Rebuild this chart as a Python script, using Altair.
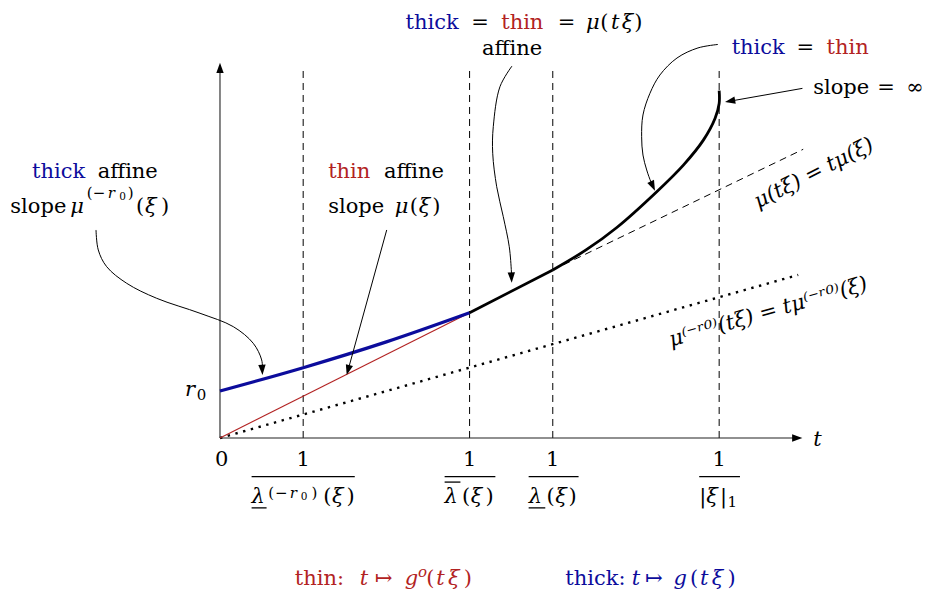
import altair as alt
import pandas as pd

FONT = "DejaVu Serif"
BLUE = "#0c0c9c"
RED = "#b22222"
BLACK = "#000000"

# ---------------- data (t along the ray, value of the function) ----------------
thick_t = [0.0, 1.0, 2.0, 3.0]
thick_y = [0.565, 0.845, 1.155, 1.505]

thin_t = [0.0, 3.0]
thin_y = [0.0, 1.505]

affine_t = [3.0, 4.0]
affine_y = [1.505, 2.02]

curve_t = [4.0, 4.40, 4.77, 5.25, 5.57, 5.81, 5.95, 6.0, 6.0]
curve_y = [2.02, 2.26, 2.53, 2.96, 3.28, 3.58, 3.84, 4.02, 4.174]

tangent_t = [4.0, 7.01]
tangent_y = [2.02, 3.47]

dotted_t = [0.0, 6.95]
dotted_y = [0.0, 1.96]

vline_t = [1.0, 3.0, 4.0, 6.0]
vline_top = 4.46

xaxis_end = 6.93
xaxis_tip = 7.0
yaxis_end = 4.45
yaxis_tip = 4.51

# fraction bars / under- and overlines (t_start, t_end, y)
bar_rules = [
    (0.38, 1.62, -0.465), (2.70, 3.31, -0.465), (3.71, 4.31, -0.465), (5.76, 6.25, -0.465),
    (0.38, 0.56, -0.84), (3.71, 3.91, -0.84), (2.70, 2.89, -0.53),
]

# annotation arrows
arrow_paths = {
    "a1": ([-1.490, -1.463, -1.362, -1.121, -0.761, -0.240, 0.160, 0.400, 0.501, 0.511],
           [2.500, 2.260, 2.059, 1.859, 1.679, 1.499, 1.338, 1.138, 0.938, 0.800]),
    "a2": ([2.004, 1.535], [2.500, 0.800]),
    "a3": ([3.510, 3.365, 3.285, 3.278, 3.326, 3.405, 3.477, 3.503, 3.506],
           [4.471, 4.222, 3.742, 3.422, 3.020, 2.660, 2.299, 1.995, 1.910]),
    "a4": ([5.986, 5.745, 5.493, 5.288, 5.168, 5.084, 5.068, 5.084, 5.129, 5.180, 5.215],
           [4.730, 4.688, 4.567, 4.363, 4.143, 3.882, 3.621, 3.401, 3.221, 3.077, 3.000]),
    "a5": ([7.001, 6.100], [4.202, 4.043]),
}
head_t = [0.511, 1.523, 3.506, 5.228, 6.070, xaxis_tip, 0.0]
head_y = [0.757, 0.757, 1.867, 2.972, 4.038, 0.0, yaxis_tip]
head_angle = [177, 195.4, 178, 155.3, 260, 90, 0]

# text pieces: (text, t, y, color, size, italic)
K, B, R = BLACK, BLUE, RED
M, S, SS = 21, 15, 10.5   # main, superscript, sub-of-superscript sizes
TY = 4.92
top_label = [("thick", 2.23, TY, B, M, 0), ("=", 3.02, TY, K, M, 0), ("thin", 3.38, TY, R, M, 0),
             ("=", 4.06, TY, K, M, 0), ("μ", 4.40, TY, K, M, 1), ("(", 4.57, TY, K, M, 0),
             ("t", 4.70, TY, K, M, 1), ("ξ", 4.83, TY, K, M, 1), (")", 4.98, TY, K, M, 0)]
affine_label = [("affine", 3.15, 4.60, K, M, 0)]
right_label = [("thick", 6.15, 4.62, B, M, 0), ("=", 6.93, 4.62, K, M, 0), ("thin", 7.29, 4.62, R, M, 0)]
slope_label = [("slope", 7.13, 4.13, K, M, 0), ("=", 7.90, 4.13, K, M, 0), ("∞", 8.25, 4.13, K, M, 0)]
left_label = [("thick", -2.26, 3.12, B, M, 0), ("affine", -1.47, 3.12, K, M, 0),
              ("slope", -2.52, 2.70, K, M, 0), ("μ", -1.80, 2.70, K, M, 1),
              ("(", -1.60, 2.88, K, S, 0), ("−", -1.53, 2.88, K, S, 0), ("r", -1.35, 2.88, K, S, 1),
              ("0", -1.21, 2.86, K, SS, 0), (")", -1.11, 2.88, K, S, 0),
              ("(", -1.01, 2.70, K, M, 0), ("ξ", -0.90, 2.70, K, M, 1), (")", -0.71, 2.70, K, M, 0)]
mid_label = [("thin", 1.30, 3.12, R, M, 0), ("affine", 1.97, 3.12, K, M, 0),
             ("slope", 1.30, 2.70, K, M, 0), ("μ", 2.10, 2.70, K, M, 1), ("(", 2.28, 2.70, K, M, 0),
             ("ξ", 2.39, 2.70, K, M, 1), (")", 2.55, 2.70, K, M, 0)]
r0_label = [("r", -0.42, 0.50, K, M, 1), ("0", -0.28, 0.46, K, S, 0)]
denominators = [("λ", 0.38, -0.78, K, M, 1), ("(", 0.58, -0.72, K, S, 0), ("−", 0.66, -0.72, K, S, 0),
                ("r", 0.84, -0.72, K, S, 1), ("0", 0.97, -0.75, K, SS, 0), (")", 1.10, -0.72, K, S, 0),
                ("(", 1.24, -0.78, K, M, 0), ("ξ", 1.345, -0.78, K, M, 1), (")", 1.52, -0.78, K, M, 0),
                ("λ", 2.70, -0.78, K, M, 1), ("(", 2.91, -0.78, K, M, 0), ("ξ", 3.015, -0.78, K, M, 1),
                (")", 3.19, -0.78, K, M, 0),
                ("λ", 3.71, -0.78, K, M, 1), ("(", 3.925, -0.78, K, M, 0), ("ξ", 4.03, -0.78, K, M, 1),
                (")", 4.19, -0.78, K, M, 0),
                ("|", 5.76, -0.78, K, M, 0), ("ξ", 5.845, -0.78, K, M, 1), ("|", 6.01, -0.78, K, M, 0),
                ("1", 6.10, -0.83, K, S, 0)]
axis_t_label = [("t", 7.13, -0.10, K, M, 1)]
bottom_label = [("thin:", 0.90, -1.77, R, M, 0), ("t", 1.68, -1.77, R, M, 1), ("↦", 1.86, -1.77, R, M, 0),
                ("g", 2.22, -1.77, R, M, 1), ("o", 2.38, -1.67, R, S, 1), ("(", 2.48, -1.77, R, M, 0),
                ("t", 2.60, -1.77, R, M, 1), ("ξ", 2.74, -1.77, R, M, 1), (")", 2.93, -1.77, R, M, 0),
                ("thick:", 4.15, -1.77, B, M, 0), ("t", 4.95, -1.77, B, M, 1), ("↦", 5.11, -1.77, B, M, 0),
                ("g", 5.45, -1.77, B, M, 1), ("(", 5.65, -1.77, B, M, 0), ("t", 5.77, -1.77, B, M, 1),
                ("ξ", 5.91, -1.77, B, M, 1), (")", 6.10, -1.77, B, M, 0)]
tick_labels = [("0", 0.02, -0.34), ("1", 1.0, -0.34), ("1", 3.0, -0.34), ("1", 4.0, -0.34), ("1", 6.0, -0.34)]
rot_labels = [("μ(tξ) = tμ(ξ)", 7.14, 3.18, 333), ("μ⁽⁻ʳ⁰⁾(tξ) = tμ⁽⁻ʳ⁰⁾(ξ)", 6.59, 1.51, 344)]

# ---------------- chart ----------------
XS = alt.Scale(domain=[-2.548, 8.474], nice=False, zero=False)
YS = alt.Scale(domain=[-1.839, 5.168], nice=False, zero=False)
X = alt.X("t:Q", scale=XS, axis=None)
Y = alt.Y("y:Q", scale=YS, axis=None)


def line_layer(t, y, color, width, dash=None, interp="linear"):
    df = pd.DataFrame({"t": t, "y": y, "i": list(range(len(t)))})
    kw = dict(color=color, strokeWidth=width, interpolate=interp, strokeCap="butt")
    if dash:
        kw["strokeDash"] = dash
    return alt.Chart(df).mark_line(**kw).encode(x=X, y=Y, order="i:Q")


def text_layers(pieces):
    out = []
    tdf = pd.DataFrame(pieces, columns=["text", "t", "y", "color", "size", "italic"])
    for it in (0, 1):
        sub = tdf[tdf["italic"] == it]
        if len(sub) == 0:
            continue
        mk = dict(font=FONT, align="left", baseline="alphabetic")
        if it:
            mk["fontStyle"] = "italic"
        out.append(alt.Chart(sub).mark_text(**mk).encode(
            x=X, y=Y, text="text:N", color=alt.Color("color:N", scale=None),
            size=alt.Size("size:Q", scale=None)))
    return out


layers = []
vdf = pd.DataFrame({"t": vline_t, "y": [0.0] * len(vline_t), "y2": [vline_top] * len(vline_t)})
layers.append(alt.Chart(vdf).mark_rule(color=BLACK, strokeWidth=1, strokeDash=[7, 5]).encode(x=X, y=Y, y2="y2:Q"))
layers.append(line_layer([0.0, xaxis_end], [0.0, 0.0], "#222222", 1.1))
layers.append(line_layer([0.0, 0.0], [0.0, yaxis_end], "#222222", 1.1))
bdf = pd.DataFrame(bar_rules, columns=["t", "t2", "y"])
layers.append(alt.Chart(bdf).mark_rule(color=BLACK, strokeWidth=1.3).encode(x=X, x2="t2:Q", y=Y))
layers.append(line_layer(tangent_t, tangent_y, BLACK, 1, dash=[7, 5]))
layers.append(line_layer(dotted_t, dotted_y, BLACK, 2.4, dash=[2.4, 5.6]))
layers.append(line_layer(thin_t, thin_y, RED, 1.1))
layers.append(line_layer(thick_t, thick_y, BLUE, 3.2, interp="monotone"))
layers.append(line_layer(affine_t, affine_y, BLACK, 2.8))
layers.append(line_layer(curve_t, curve_y, BLACK, 2.8, interp="catmull-rom"))
rows = []
for k, (ts, ys) in arrow_paths.items():
    for i, (a, b) in enumerate(zip(ts, ys)):
        rows.append({"id": k, "i": i, "t": a, "y": b})
adf = pd.DataFrame(rows)
layers.append(alt.Chart(adf).mark_line(color=BLACK, strokeWidth=1, interpolate="catmull-rom").encode(
    x=X, y=Y, detail="id:N", order="i:Q"))
hdf = pd.DataFrame({"t": head_t, "y": head_y, "a": head_angle})
layers.append(alt.Chart(hdf).mark_point(shape="M0,0 L0.72,2 L-0.72,2 Z", filled=True, color=BLACK,
                                        opacity=1, size=105, strokeWidth=0).encode(
    x=X, y=Y, angle=alt.Angle("a:Q", scale=None)))

layers += text_layers(top_label + affine_label + right_label + slope_label + left_label + mid_label
                      + r0_label + denominators + axis_t_label + bottom_label)
kdf = pd.DataFrame(tick_labels, columns=["text", "t", "y"])
layers.append(alt.Chart(kdf).mark_text(font=FONT, fontSize=M, align="center", baseline="alphabetic",
                                       color=BLACK).encode(x=X, y=Y, text="text:N"))
for txt, tt, yy, ang in rot_labels:
    rdf = pd.DataFrame({"text": [txt], "t": [tt], "y": [yy]})
    layers.append(alt.Chart(rdf).mark_text(font=FONT, fontSize=M, fontStyle="italic", align="center",
                                           baseline="middle", angle=ang, color=BLACK).encode(
        x=X, y=Y, text="text:N"))

chart = alt.layer(*layers).properties(
    width=917, height=583, padding=0, autosize=alt.AutoSizeParams(type="none"),
    background="white",
).configure(font=FONT).configure_view(strokeWidth=0)

chart.save("out.html", embed_options={"renderer": "svg", "actions": False})
